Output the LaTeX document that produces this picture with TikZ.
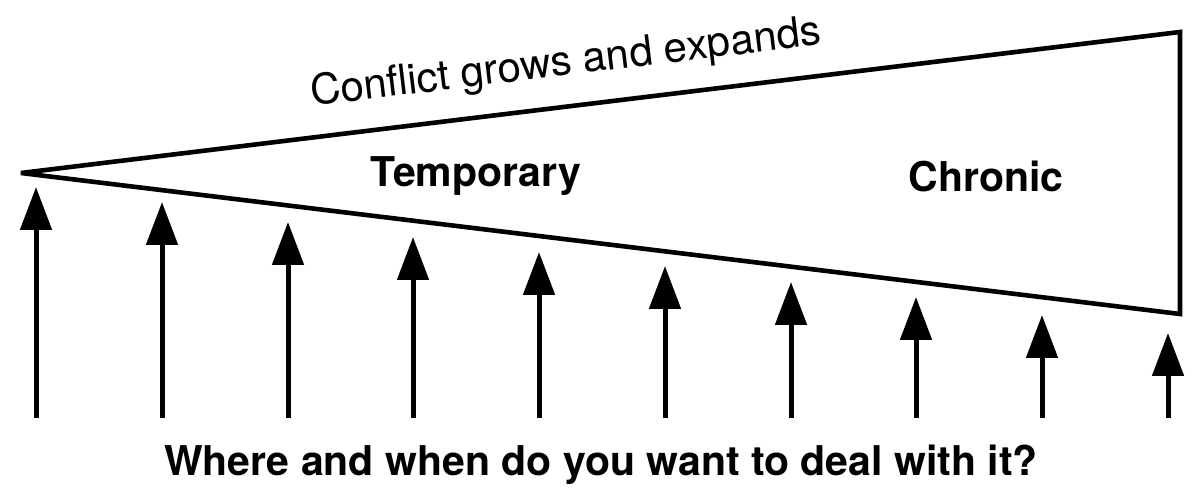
\documentclass[tikz,border=0pt]{standalone}
\usepackage{fontspec}
\setmainfont{TeX Gyre Heros}
\usetikzlibrary{arrows.meta, positioning, calc}
\tikzset{
    wedge/.style={line width=2.3pt, line join=miter, miter limit=2},
    uparrow/.style={line width=2.5pt, -{Triangle[width=15.5pt, length=21.5pt]}},
    stage/.style={font=\fontsize{20.5}{24}\selectfont\bfseries}
}

\begin{document}
\begin{tikzpicture}[x=0.5pt, y=-0.5pt]
    \useasboundingbox (0,0) rectangle (1200,496);

    % The widening wedge of the conflict
    \coordinate (apex) at (21,173);
    \coordinate (topR) at (1180,32);
    \coordinate (botR) at (1180,314);
    \draw[wedge] (apex) -- (topR) -- (botR) -- cycle;

    % Label along the upper edge
    \node[rotate=6.9, font=\fontsize{21}{25}\selectfont] (grow) at (566,64) {Conflict grows and expands};

    % Stages inside the wedge
    \node[stage] (temp) at (476,176) {Temporary};
    \node[stage] (chron) at (986,176) {Chronic};

    % Arrows pointing up at the wedge
    \foreach \x/\tip [count=\i] in {36/187, 162/202, 288/222, 413/237, 539/252,
                                    665/266, 791/282, 916/297, 1042/315, 1168/333} {
        \coordinate (b\i) at (\x,418);
        \coordinate (t\i) at (\x,\tip);
        \draw[uparrow] (b\i) -- (t\i);
    }

    % Question underneath
    \node[stage] (ask) at (601,465) {Where and when do you want to deal with it?};
\end{tikzpicture}
\end{document}
